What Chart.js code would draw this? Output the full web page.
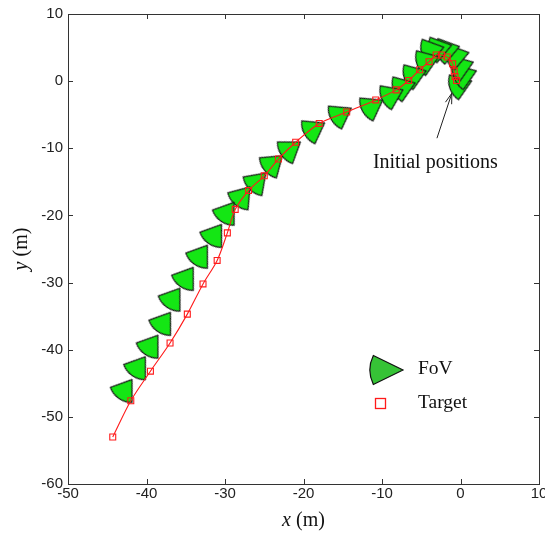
<!DOCTYPE html>
<html>
<head>
<meta charset="utf-8">
<script src="https://cdn.jsdelivr.net/npm/chart.js@4.4.1/dist/chart.umd.min.js"></script>
<style>
  html, body { margin: 0; padding: 0; background: #fff; }
</style>
</head>
<body>
<canvas id="mychart" width="545" height="534"></canvas>
<script>
// target track (m)
const targetX = [-0.5, -0.7, -0.8, -1.0, -1.7, -2.4, -3.1, -4.0, -5.2, -6.6, -8.2, -10.8, -14.5, -18.0,
  -21.0, -23.2, -25.0, -27.0, -28.7, -29.7, -31.0, -32.8, -34.8, -37.0, -39.5, -42.0, -44.3];
const targetY = [0.1, 0.7, 1.5, 2.6, 3.6, 3.9, 3.9, 2.9, 1.7, 0.1, -1.3, -2.8, -4.6, -6.3,
  -9.1, -11.6, -14.1, -16.3, -19.1, -22.6, -26.7, -30.2, -34.7, -39.0, -43.2, -47.6, -53.0];

// field of view wedges: centre (m) and heading (screen degrees)
const fovX = [-0.3, 0.3, -0.1, -0.7, -1.9, -2.9, -3.9, -4.5, -6.1, -7.5, -9.0, -11.5, -15.5, -18.9,
  -21.9, -24.1, -26.1, -28.0, -29.9, -31.5, -33.3, -35.1, -36.8, -38.0, -39.6, -41.2, -42.9];
const fovY = [-0.7, 0.8, 2.1, 3.7, 4.6, 4.8, 4.5, 2.9, 0.8, -1.0, -2.2, -3.9, -5.1, -7.3,
  -10.3, -12.5, -15.2, -17.4, -19.8, -23.1, -26.2, -29.5, -32.6, -36.2, -39.6, -42.8, -46.2];
const fovAngle = [160, 160, 160, 165, 165, 165, 165, 160, 160, 160, 155, 150, 150, 150,
  145, 140, 135, 130, 125, 125, 125, 125, 125, 125, 125, 125, 125];

const xTicks = [-50, -40, -30, -20, -10, 0, 10];
const yTicks = [-60, -50, -40, -30, -20, -10, 0, 10];

// sector image, opening to the right, centred on its centroid
function wedgeCanvas(R, apDeg, fill) {
  const a = apDeg * Math.PI / 360;
  const d = 2 * R * Math.sin(a) / (3 * a);
  const S = Math.ceil(2 * R + 6);
  const c = document.createElement('canvas');
  c.width = S; c.height = S;
  const g = c.getContext('2d');
  const cx = S / 2 - d, cy = S / 2;
  g.beginPath();
  g.moveTo(cx, cy);
  g.arc(cx, cy, R, -a, a);
  g.closePath();
  g.fillStyle = fill;
  g.fill();
  g.lineWidth = 1.2;
  g.strokeStyle = '#1a1a1a';
  g.lineJoin = 'round';
  g.stroke();
  return c;
}
const fovImg = wedgeCanvas(23, 70, '#14e614');

const points = (xs, ys) => xs.map((x, i) => ({ x: x, y: ys[i] }));

const data = {
  datasets: [{
    label: 'Target',
    data: points(targetX, targetY),
    showLine: true,
    borderColor: '#ff1a1a',
    borderWidth: 1.1,
    tension: 0.3,
    pointStyle: 'rect',
    pointRadius: 4.2,
    pointBorderWidth: 1.1,
    pointBorderColor: '#ff1a1a',
    pointBackgroundColor: 'rgba(0,0,0,0)'
  }, {
    label: 'FoV',
    data: points(fovX, fovY),
    showLine: false,
    pointStyle: fovImg,
    pointRadius: 10,
    pointRotation: fovAngle
  }]
};

const serif = '"Liberation Serif", "Times New Roman", serif';
const sans = '"Liberation Sans", Arial, sans-serif';

// box, inward ticks, x labels, axis titles, legend and annotation
const decorations = {
  id: 'decorations',
  afterDraw(chart) {
    const ctx = chart.ctx;
    const a = chart.chartArea;
    const sx = chart.scales.x, sy = chart.scales.y;
    ctx.save();
    ctx.strokeStyle = '#333';
    ctx.lineWidth = 1;
    ctx.strokeRect(Math.round(a.left) + 0.5, Math.round(a.top) + 0.5,
      Math.round(a.right - a.left), Math.round(a.bottom - a.top));
    ctx.beginPath();
    xTicks.forEach(v => {
      const px = Math.round(sx.getPixelForValue(v)) + 0.5;
      ctx.moveTo(px, a.bottom); ctx.lineTo(px, a.bottom - 5);
      ctx.moveTo(px, a.top); ctx.lineTo(px, a.top + 5);
    });
    yTicks.forEach(v => {
      const py = Math.round(sy.getPixelForValue(v)) + 0.5;
      ctx.moveTo(a.left, py); ctx.lineTo(a.left + 5, py);
      ctx.moveTo(a.right, py); ctx.lineTo(a.right - 5, py);
    });
    ctx.stroke();

    // x tick labels
    ctx.fillStyle = '#222';
    ctx.font = '15px ' + sans;
    ctx.textAlign = 'center';
    ctx.textBaseline = 'middle';
    xTicks.forEach(v => ctx.fillText(String(v), sx.getPixelForValue(v), a.bottom + 10));

    // axis titles
    ctx.fillStyle = '#111';
    function mixed(label, cx, cy) {
      ctx.font = 'italic 20px ' + serif;
      const w1 = ctx.measureText(label).width;
      ctx.font = '20px ' + serif;
      const w2 = ctx.measureText(' (m)').width;
      let x0 = cx - (w1 + w2) / 2;
      ctx.textAlign = 'left';
      ctx.font = 'italic 20px ' + serif;
      ctx.fillText(label, x0, cy);
      ctx.font = '20px ' + serif;
      ctx.fillText(' (m)', x0 + w1, cy);
    }
    mixed('x', (a.left + a.right) / 2, 521);
    ctx.save();
    ctx.translate(22, (a.top + a.bottom) / 2);
    ctx.rotate(-Math.PI / 2);
    mixed('y', 0, 0);
    ctx.restore();

    // annotation
    ctx.font = '20px ' + serif;
    ctx.textAlign = 'center';
    ctx.fillText('Initial positions', sx.getPixelForValue(-3.2), sy.getPixelForValue(-12.2));
    const tx = sx.getPixelForValue(-3.0), ty = sy.getPixelForValue(-8.5);
    const hx = sx.getPixelForValue(-1.1), hy = sy.getPixelForValue(-1.8);
    const ang = Math.atan2(hy - ty, hx - tx);
    ctx.strokeStyle = '#222';
    ctx.beginPath();
    ctx.moveTo(tx, ty); ctx.lineTo(hx, hy);
    ctx.moveTo(hx - 11 * Math.cos(ang - 0.3), hy - 11 * Math.sin(ang - 0.3));
    ctx.lineTo(hx, hy);
    ctx.lineTo(hx - 11 * Math.cos(ang + 0.3), hy - 11 * Math.sin(ang + 0.3));
    ctx.stroke();

    // legend
    const ax = 403, ay = 370, R = 33, h = 26 * Math.PI / 180;
    ctx.beginPath();
    ctx.moveTo(ax, ay);
    ctx.arc(ax, ay, R, Math.PI - h, Math.PI + h);
    ctx.closePath();
    ctx.fillStyle = '#36c336';
    ctx.fill();
    ctx.strokeStyle = '#111';
    ctx.lineWidth = 1.2;
    ctx.stroke();
    ctx.strokeStyle = '#ff1a1a';
    ctx.lineWidth = 1.3;
    ctx.strokeRect(375.5, 398.5, 10, 10);
    ctx.fillStyle = '#111';
    ctx.font = '19.5px ' + serif;
    ctx.textAlign = 'left';
    ctx.fillText('FoV', 418, 369);
    ctx.fillText('Target', 418, 403);
    ctx.restore();
  }
};

const config = {
  type: 'scatter',
  data,
  options: {
    responsive: false,
    animation: false,
    events: [],
    layout: { autoPadding: false, padding: { top: 14, right: 6, left: 0, bottom: 0 } },
    plugins: { legend: { display: false }, tooltip: { enabled: false } },
    scales: {
      x: {
        type: 'linear', min: -50, max: 10,
        afterBuildTicks: s => { s.ticks = xTicks.map(v => ({ value: v })); },
        afterFit: s => { s.height = 50; },
        grid: { display: false, drawTicks: false },
        border: { display: false },
        ticks: { display: false }
      },
      y: {
        type: 'linear', min: -60, max: 10,
        afterBuildTicks: s => { s.ticks = yTicks.map(v => ({ value: v })); },
        afterFit: s => { s.width = 68; s.paddingTop = 0; s.paddingBottom = 0; },
        grid: { display: false, drawTicks: false },
        border: { display: false },
        ticks: { autoSkip: false, padding: 5, color: '#222', font: { family: sans, size: 15 } }
      }
    }
  },
  plugins: [decorations]
};

let myChart = new Chart(document.getElementById('mychart'), config);
</script>
</body>
</html>
